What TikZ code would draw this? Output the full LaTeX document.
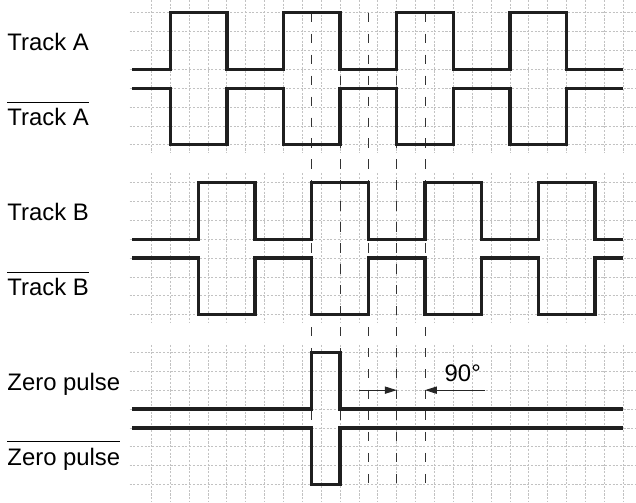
\documentclass[tikz,border=0pt]{standalone}
\usepackage{amsmath}
\usepackage{fontspec}
\setmainfont{Liberation Sans}
\usetikzlibrary{arrows.meta, positioning}

\tikzset{
  signal/.style={line width=2.5pt, black!88},
  gridline/.style={black!24, line width=0.55pt, dash pattern=on 1.6pt off 1.2pt},
  marker/.style={black!80, line width=0.6pt, dash pattern=on 7pt off 8.8pt},
  tracklabel/.style={font=\fontsize{18}{20}\selectfont, inner sep=0pt, anchor=base west},
  phase/.style={black!85, line width=0.7pt, -{Triangle[length=9pt,width=5.5pt]}},
}
\newcommand{\inverted}[1]{$\overline{\rule{0pt}{0.86em}\mbox{#1}}$}

\begin{document}
\begin{tikzpicture}[x=0.5cm, y=0.5cm]
    \useasboundingbox (-7.02,0.673) rectangle (26.68,-25.93);

    % grid blocks
    \foreach \top/\vtop/\vbot in {0/0.68/-7.4, 9/-8.5/-16.45, 18/-17.6/-25.93} {
        \foreach \r in {0,...,7}
            \draw[gridline] (-0.15,-\top-\r) -- (26.68,-\top-\r);
        \foreach \c in {1,...,26}
            \draw[gridline] (\c,\vtop) -- (\c,\vbot);
    }

    % markers
    \foreach \c [count=\i] in {9.5,11,12.5,14,15.5} {
        \coordinate (mt\i) at (\c,0);
        \coordinate (mb\i) at (\c,-25);
        \draw[marker] (mt\i) -- (mb\i);
    }

    % labels
    \node[tracklabel] (trackA)    at (-6.64,-2)  {Track A};
    \node[tracklabel] (trackAbar) at (-6.64,-6)  {\inverted{Track A}};
    \node[tracklabel] (trackB)    at (-6.64,-11) {Track B};
    \node[tracklabel] (trackBbar) at (-6.64,-15) {\inverted{Track B}};
    \node[tracklabel] (zero)      at (-6.64,-20) {Zero pulse};
    \node[tracklabel] (zerobar)   at (-6.64,-24) {\inverted{Zero pulse}};

    % Track A
    \draw[signal] (0,-3) \foreach \x in {2,8,14,20} { -- (\x,-3) -- (\x,0) -- (\x+3,0) -- (\x+3,-3) } -- (26,-3);
    \draw[signal] (0,-4) \foreach \x in {2,8,14,20} { -- (\x,-4) -- (\x,-7) -- (\x+3,-7) -- (\x+3,-4) } -- (26,-4);

    % Track B
    \draw[signal] (0,-12) \foreach \x in {3.5,9.5,15.5,21.5} { -- (\x,-12) -- (\x,-9) -- (\x+3,-9) -- (\x+3,-12) } -- (26,-12);
    \draw[signal] (0,-13) \foreach \x in {3.5,9.5,15.5,21.5} { -- (\x,-13) -- (\x,-16) -- (\x+3,-16) -- (\x+3,-13) } -- (26,-13);

    % Zero pulse
    \draw[signal] (0,-21) -- (9.5,-21) -- (9.5,-18) -- (11,-18) -- (11,-21) -- (26,-21);
    \draw[signal] (0,-22) -- (9.5,-22) -- (9.5,-25) -- (11,-25) -- (11,-22) -- (26,-22);

    % phase shift
    \coordinate (pl) at (12,-20);
    \coordinate (pr) at (18.7,-20);
    \draw[phase] (pl) -- (pl -| mb4);
    \draw[phase] (pr) -- (pr -| mb5);
    \node[font=\fontsize{18}{20}\selectfont, inner sep=0pt, anchor=base] (deg) at (17.5,-19.56) {90°};

\end{tikzpicture}
\end{document}
